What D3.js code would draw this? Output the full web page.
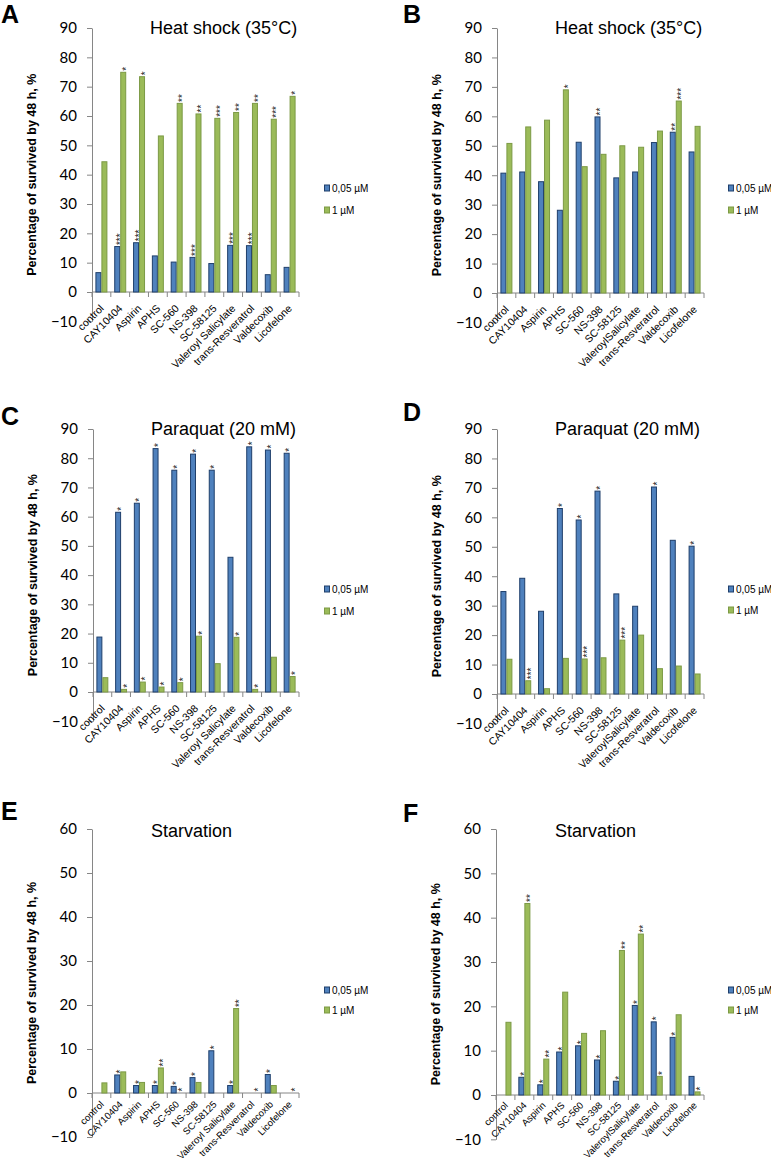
<!DOCTYPE html>
<html><head><meta charset="utf-8">
<script src="https://cdn.jsdelivr.net/npm/d3@7"></script>
<style>body{margin:0;background:#fff}</style></head>
<body>
<svg id="c" width="771" height="1169"></svg>
<script>
// ---------- data ----------
const categoriesLeft = ["control","CAY10404","Aspirin","APHS","SC-560","NS-398","SC-58125","Valeroyl Salicylate","trans-Resveratrol","Valdecoxib","Licofelone"];
const categoriesRight = ["control","CAY10404","Aspirin","APHS","SC-560","NS-398","SC-58125","ValeroylSalicylate","trans-Resveratrol","Valdecoxib","Licofelone"];
const seriesNames = ["0,05 µM","1 µM"];
const ticks90 = [-10,0,10,20,30,40,50,60,70,80,90];
const ticks60 = [-10,0,10,20,30,40,50,60];

const aLow   = [6.6,15.5,16.8,12.3,10.2,11.8,9.7,15.9,15.8,5.9,8.4];
const aHigh  = [44.4,74.9,73.4,53.2,64.3,60.7,59.2,61.2,64.3,58.9,66.7];
const aLowStars  = ["","***","***","","","***","","***","***","",""];
const aHighStars = ["","*","*","","**","**","***","**","**","***","*"];

const bLow   = [40.7,41.1,37.8,28.1,51.2,59.8,39.1,41.1,51.1,54.6,47.9];
const bHigh  = [50.8,56.4,58.7,69.0,42.9,47.1,50.0,49.5,55.0,65.2,56.6];
const bLowStars  = ["","","","","","**","","","","**",""];
const bHighStars = ["","","","*","","","","","","***",""];

const cLow   = [18.8,61.5,64.6,83.3,75.9,81.4,75.9,46.1,83.9,82.8,81.7];
const cHigh  = [4.9,0.9,3.4,1.7,3.2,19.1,9.7,18.7,0.9,11.9,5.3];
const cLowStars  = ["","*","*","*","*","*","*","","*","*","*"];
const cHighStars = ["","*","*","*","*","*","","*","*","","*"];

const dLow   = [34.8,39.3,28.1,63.0,59.1,68.9,34.0,29.8,70.3,52.2,50.2];
const dHigh  = [11.8,4.5,1.8,12.1,11.9,12.3,18.3,20.0,8.6,9.5,6.8];
const dLowStars  = ["","","","*","*","*","","","*","","*"];
const dHighStars = ["","***","","","***","","***","","","",""];

const eLow   = [0,4.1,1.7,1.7,1.5,3.5,9.6,1.7,0,4.2,0];
const eHigh  = [2.3,4.8,2.4,5.7,0,2.4,0,19.2,0,1.7,0];
const eLowStars  = ["","*","*","*","*","*","*","*","","*",""];
const eHighStars = ["","","","**","*","","","**","*","","*"];

const fLow   = [0,4.0,2.3,9.7,11.1,7.9,3.1,20.2,16.5,13.0,4.2];
const fHigh  = [16.4,43.2,8.1,23.2,13.9,14.5,32.6,36.3,4.2,18.1,0.7];
const fLowStars  = ["","*","*","*","*","*","*","*","*","*",""];
const fHighStars = ["","**","**","","","","**","**","*","","*"];

const titles = ["Heat shock (35°C)","Heat shock (35°C)","Paraquat (20 mM)","Paraquat (20 mM)","Starvation","Starvation"];
const letters = ["A","B","C","D","E","F"];
const yTitle = "Percentage of survived by 48 h, %";

// ---------- layout ----------
const panels = [
  {letter:letters[0], title:titles[0], cats:categoriesLeft,  low:aLow, high:aHigh, ls:aLowStars, hs:aHighStars, ymax:90, ticks:ticks90, x0:92,  x1:299, yTop:28,  yZero:292, lx:1,   ly:23,  ty:34,  tx:150, leg:[324,188,210], cfs:10.5, cdy:17},
  {letter:letters[1], title:titles[1], cats:categoriesRight, low:bLow, high:bHigh, ls:bLowStars, hs:bHighStars, ymax:90, ticks:ticks90, x0:497, x1:704, yTop:28,  yZero:293, lx:403, ly:23,  ty:34,  tx:555, leg:[728,188,210], cfs:10.5, cdy:17},
  {letter:letters[2], title:titles[2], cats:categoriesLeft,  low:cLow, high:cHigh, ls:cLowStars, hs:cHighStars, ymax:90, ticks:ticks90, x0:93,  x1:299, yTop:429, yZero:692, lx:1,   ly:425, ty:435, tx:151, leg:[324,589,611], cfs:10.5, cdy:17},
  {letter:letters[3], title:titles[3], cats:categoriesRight, low:dLow, high:dHigh, ls:dLowStars, hs:dHighStars, ymax:90, ticks:ticks90, x0:497, x1:704, yTop:429, yZero:694, lx:403, ly:421, ty:435, tx:555, leg:[728,589,610], cfs:10.5, cdy:17},
  {letter:letters[4], title:titles[4], cats:categoriesLeft,  low:eLow, high:eHigh, ls:eLowStars, hs:eHighStars, ymax:60, ticks:ticks60, x0:92,  x1:299, yTop:829, yZero:1093,lx:1,   ly:820, ty:837, tx:151, leg:[324,990,1010], cfs:9.6, cdy:12},
  {letter:letters[5], title:titles[5], cats:categoriesRight, low:fLow, high:fHigh, ls:fLowStars, hs:fHighStars, ymax:60, ticks:ticks60, x0:496, x1:704, yTop:829, yZero:1095,lx:403, ly:822, ty:837, tx:555, leg:[728,990,1010], cfs:9.6, cdy:11}
];

const fills = ["#4f81bd","#9bbb59"];
const strokes = ["#1f3f6b","#7c9a45"];
const axisColor = "#868686";

const svg = d3.select("#c");

panels.forEach(p => {
  const unit = (p.yZero - p.yTop) / p.ymax;
  const yBottom = p.yZero + 10 * unit;
  const y = d3.scaleLinear().domain([-10, p.ymax]).range([yBottom, p.yTop]);
  const x = d3.scaleBand().domain(p.cats).range([p.x0, p.x1]).padding(0);
  const xs = d3.scaleBand().domain([0,1]).range([0, x.bandwidth()]).paddingInner(0).paddingOuter(0.57);
  const g = svg.append("g");

  // panel letter
  g.append("text").attr("x", p.lx).attr("y", p.ly).text(p.letter)
    .attr("font-family","Liberation Sans, Arial, sans-serif").attr("font-weight","bold").attr("font-size",25);

  // title
  g.append("text").attr("x", p.tx).attr("y", p.ty).text(p.title)
    .attr("font-family","Liberation Sans, Arial, sans-serif").attr("font-size",18);

  // y axis
  const ya = g.append("g").attr("transform",`translate(${p.x0},0)`)
    .call(d3.axisLeft(y).tickValues(p.ticks).tickSize(5).tickSizeOuter(0).tickPadding(10).tickFormat(d3.format("d")));
  ya.select(".domain").attr("stroke", axisColor);
  ya.selectAll(".tick line").attr("stroke", axisColor);
  ya.selectAll(".tick text").attr("font-family","Lato, sans-serif").attr("font-size",15).attr("fill","#000");

  // y title
  g.append("text")
    .attr("transform",`translate(${p.x0-56},${(p.yTop+yBottom)/2}) rotate(-90)`)
    .attr("text-anchor","middle").text(yTitle)
    .attr("font-family","Liberation Sans, Arial, sans-serif").attr("font-weight","bold").attr("font-size",12.5);

  // x axis at zero
  const y0 = y(0);
  g.append("line").attr("x1",p.x0).attr("x2",p.x1).attr("y1",y0).attr("y2",y0).attr("stroke",axisColor);
  const bounds = p.cats.map(c => x(c)).concat([p.x1]);
  g.selectAll(".xt").data(bounds).enter().append("line")
    .attr("x1",d=>d).attr("x2",d=>d).attr("y1",y0).attr("y2",y0+5).attr("stroke",axisColor);

  // category labels
  g.selectAll(".cl").data(p.cats).enter().append("text")
    .attr("transform",c=>`translate(${x(c)+x.bandwidth()/2+3},${y0+p.cdy}) rotate(-45)`)
    .attr("text-anchor","end").text(c=>c)
    .attr("font-family","Liberation Sans, Arial, sans-serif").attr("font-size",p.cfs).attr("fill","#000");

  // bars
  const series = [p.low, p.high];
  const stars = [p.ls, p.hs];
  series.forEach((vals, si) => {
    g.selectAll(".b"+si).data(p.cats.map((c,i)=>({c, v:vals[i]})).filter(d=>d.v>0)).enter().append("rect")
      .attr("x", d=>x(d.c)+xs(si)+0.5).attr("width", xs.bandwidth()-1)
      .attr("y", d=>y(d.v)).attr("height", d=>y(0)-y(d.v))
      .attr("fill", fills[si]).attr("stroke", strokes[si]).attr("stroke-width",1);
    g.selectAll(".s"+si).data(p.cats.map((c,i)=>({c, v:vals[i], s:stars[si][i]})).filter(d=>d.s)).enter().append("text")
      .attr("transform", d=>`translate(${x(d.c)+xs(si)+xs.bandwidth()/2},${y(d.v)-1.5}) rotate(-90)`)
      .attr("dy","0.66em").text(d=>d.s)
      .attr("font-family","Liberation Sans, Arial, sans-serif").attr("font-size",10).attr("fill","#222");
  });

  // legend
  const [lgx, l1, l2] = p.leg;
  [l1,l2].forEach((ly, i) => {
    g.append("rect").attr("x", lgx+0.5).attr("y", ly-3).attr("width",5).attr("height",6)
      .attr("fill", fills[i]).attr("stroke", strokes[i]);
    g.append("text").attr("x", lgx+8).attr("y", ly).attr("dy","0.35em").text(seriesNames[i])
      .attr("font-family","Liberation Sans, Arial, sans-serif").attr("font-size",10);
  });
});
</script>
</body></html>
